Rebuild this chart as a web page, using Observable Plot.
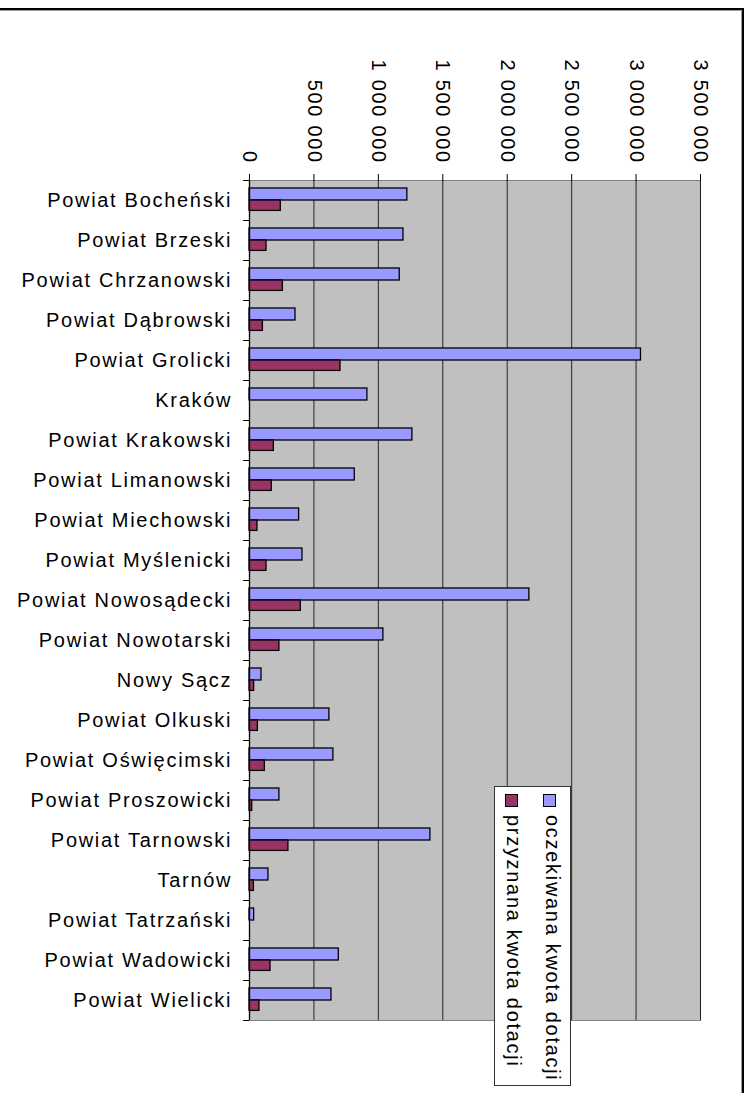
<!DOCTYPE html>
<html>
<head>
<meta charset="utf-8">
<script src="https://cdn.jsdelivr.net/npm/d3@7"></script>
<script src="https://cdn.jsdelivr.net/npm/@observablehq/plot@0.6"></script>
<style>
  html, body { margin: 0; padding: 0; background: #fff; overflow: hidden; }
  body { width: 754px; height: 1093px; position: relative; font-family: "Liberation Sans", Arial, sans-serif; }
  #frame { position: absolute; left: -10px; top: 8px; width: 754px; height: 1100px; box-sizing: border-box;
           border-top: 2px solid #000; border-right: 2px solid #000; box-shadow: inset -1px 1px 0 #a0a0a0; pointer-events: none; }
  #chart { position: absolute; left: 0; top: 0; }
  #legend { position: absolute; left: 494px; top: 786px; width: 77px; height: 300px; box-sizing: border-box;
            border: 1px solid #333; background: #fff; }
  .sw { position: absolute; width: 13px; height: 13px; box-sizing: border-box; border: 1.3px solid #000; }
  .lt { position: absolute; writing-mode: vertical-rl; font-size: 20px; line-height: 24px; letter-spacing: 1.7px;
        color: #000; white-space: nowrap; font-family: "Liberation Sans", Arial, sans-serif; }
</style>
</head>
<body>
<div id="chart"></div>
<div id="frame"></div>
<div id="legend-root"></div>
<script>
const categories = ["Powiat Bocheński", "Powiat Brzeski", "Powiat Chrzanowski", "Powiat Dąbrowski", "Powiat Grolicki", "Kraków", "Powiat Krakowski", "Powiat Limanowski", "Powiat Miechowski", "Powiat Myślenicki", "Powiat Nowosądecki", "Powiat Nowotarski", "Nowy Sącz", "Powiat Olkuski", "Powiat Oświęcimski", "Powiat Proszowicki", "Powiat Tarnowski", "Tarnów", "Powiat Tatrzański", "Powiat Wadowicki", "Powiat Wielicki"];
const expected = [1225000, 1195000, 1166000, 357000, 3038000, 915000, 1264000, 817000, 385000, 411000, 2172000, 1039000, 93000, 620000, 651000, 232000, 1404000, 147000, 36000, 693000, 636000];
const granted = [243000, 132000, 259000, 104000, 706000, 0, 189000, 173000, 62000, 132000, 398000, 232000, 36000, 65000, 119000, 21000, 302000, 34000, 0, 163000, 77000];
const seriesNames = ["oczekiwana kwota dotacji", "przyznana kwota dotacji"];
const seriesColors = ["#9999ff", "#993366"];
const xTicks = [0, 500000, 1000000, 1500000, 2000000, 2500000, 3000000, 3500000];

const expData = categories.map((c, i) => ({name: c, value: expected[i]}));
const grData = categories.map((c, i) => ({name: c, value: granted[i]})).filter(d => d.value > 0);
const fmt = d => d3.format(",")(d).replace(/,/g, " ");

const chart = Plot.plot({
  width: 754,
  height: 1093,
  marginLeft: 249,
  marginTop: 180,
  marginRight: 54,
  marginBottom: 73,
  style: {fontFamily: "Liberation Sans, Arial, sans-serif", fontSize: "20px", letterSpacing: "1.7px", color: "#000", background: "transparent"},
  x: {domain: [0, 3500000], label: null},
  y: {domain: categories, padding: 0, label: null},
  marks: [
    Plot.frame({fill: "#c0c0c0", stroke: "#808080"}),
    Plot.gridX(xTicks, {stroke: "#000", strokeOpacity: 0.8, strokeWidth: 1}),
    Plot.barX(expData, {x: "value", y: "name", fill: seriesColors[0], stroke: "#000", strokeWidth: 1.3, insetTop: 8, insetBottom: 20}),
    Plot.barX(grData, {x: "value", y: "name", fill: seriesColors[1], stroke: "#000", strokeWidth: 1.3, insetTop: 20, insetBottom: 9.6}),
    Plot.ruleX([0], {stroke: "#000", strokeWidth: 1.3}),
    Plot.axisX({anchor: "top", label: null, ticks: xTicks, tickSize: 7, tickPadding: 9.6, tickRotate: 90, textAnchor: "end", lineAnchor: "middle", tickFormat: fmt, stroke: "#000"}),
    Plot.axisY({label: null, ticks: categories, tickSize: 6, tickFormat: () => "", dy: -20}),
    Plot.axisY({label: null, ticks: [categories[categories.length - 1]], tickSize: 6, tickFormat: () => "", dy: 20}),
    Plot.axisY({label: null, ticks: categories, tickSize: 0, tickPadding: 17.3})
  ]
});
document.getElementById("chart").appendChild(chart);

// legend
const root = document.getElementById("legend-root");
const box = document.createElement("div");
box.id = "legend";
root.appendChild(box);
const swLeft = [543, 505];
const txLeft = [540.8, 501.8];
seriesNames.forEach((name, i) => {
  const sw = document.createElement("div");
  sw.className = "sw";
  sw.style.left = swLeft[i] + "px";
  sw.style.top = "794px";
  sw.style.background = seriesColors[i];
  root.appendChild(sw);
  const t = document.createElement("div");
  t.className = "lt";
  t.style.left = txLeft[i] + "px";
  t.style.top = "815px";
  t.textContent = name;
  root.appendChild(t);
});
</script>
</body>
</html>
